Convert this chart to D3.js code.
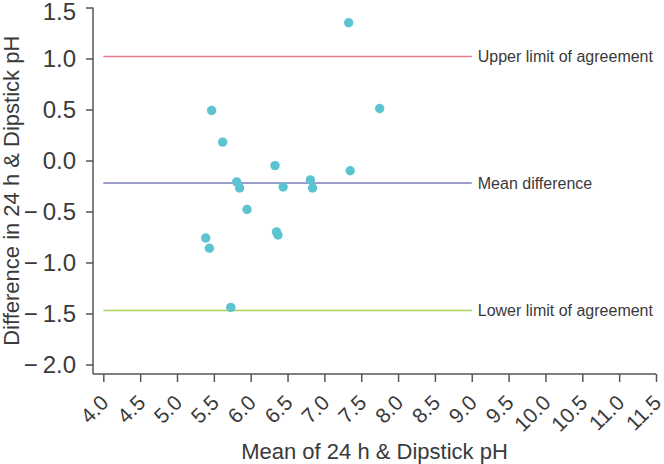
<!DOCTYPE html>
<html>
<head>
<meta charset="utf-8">
<script src="https://cdn.jsdelivr.net/npm/d3@7"></script>
<style>
  body { margin: 0; background: #fff; }
  svg { display: block; font-family: "Liberation Sans", Arial, sans-serif; }
  .axis path, .axis line { stroke: #555; stroke-width: 1.5; }
  .axis text { fill: #3a3a3a; }
</style>
</head>
<body>
<svg id="chart" width="664" height="464"></svg>
<script>
// Bland-Altman: mean of 24 h & dipstick pH vs difference
const meanPH = [7.33, 5.47, 7.75, 5.62, 6.33, 7.35, 5.81, 5.85, 6.44, 6.81, 6.84, 5.95, 6.35, 6.37, 5.39, 5.44, 5.73];
const diffPH = [1.35, 0.49, 0.51, 0.18, -0.05, -0.10, -0.21, -0.27, -0.26, -0.19, -0.27, -0.48, -0.70, -0.73, -0.76, -0.86, -1.44];

const refValues = [1.02, -0.22, -1.47];
const refLabels = ['Upper limit of agreement', 'Mean difference', 'Lower limit of agreement'];
const refColors = ['#e8798c', '#7c7cbd', '#a9cf5c'];
const refEnd = 9.0;

const xTicks = d3.range(4, 11.51, 0.5);
const yTicks = d3.range(-2, 1.51, 0.5);

const xTitle = 'Mean of 24 h & Dipstick pH';
const yTitle = 'Difference in 24 h & Dipstick pH';

const svg = d3.select('#chart');
const axisX = 93, axisY = 374;

let x = d3.scaleLinear().domain([4, 11.5]).range([103.3, 656]);
let y = d3.scaleLinear().domain([-2, 1.5]).range([364.5, 7.5]);
let fmt = d3.format('.1f');

// y axis
let yAxis = d3.axisLeft(y).tickValues(yTicks).tickFormat(fmt).tickSize(7).tickPadding(10).tickSizeOuter(0);
let gy = svg.append('g').classed('axis', true)
    .attr('transform', 'translate(' + axisX + ',0)')
    .call(yAxis);
gy.select('.domain').remove();
gy.append('line').attr('x1', 0).attr('x2', 0).attr('y1', y(1.5)).attr('y2', axisY);
gy.selectAll('.tick text').style('font-size', '24px')
    .each(function(d) {
        // minus sign sits a little apart from the number, as in the source figure
        let s = fmt(d);
        if (s.charAt(0) !== '\u2212') return;
        let t = d3.select(this).text('');
        t.append('tspan').text('\u2212');
        t.append('tspan').attr('dx', '0.2em').text(s.slice(1));
    });
gy.selectAll('.tick').filter(function(d){ return d === 1.5 })
    .select('text').attr('dy', '0.5em');

// x axis
let xAxis = d3.axisBottom(x).tickValues(xTicks).tickFormat(fmt).tickSize(8).tickSizeOuter(0);
let gx = svg.append('g').classed('axis', true)
    .attr('transform', 'translate(0,' + axisY + ')')
    .call(xAxis);
gx.select('.domain').remove();
gx.append('line').attr('x1', axisX).attr('x2', x(11.5)).attr('y1', 0).attr('y2', 0);
gx.selectAll('.tick text')
    .style('font-size', '21px')
    .attr('text-anchor', 'end')
    .attr('y', 0).attr('dy', 0)
    .attr('transform', 'translate(6,30) rotate(-45)');

// titles
svg.append('text')
    .attr('x', (axisX + x(11.5)) / 2).attr('y', 459)
    .attr('text-anchor', 'middle')
    .style('font-size', '22px').style('fill', '#3a3a3a')
    .text(xTitle);
svg.append('text')
    .attr('transform', 'translate(19,' + ((y(1.5) + axisY) / 2) + ') rotate(-90)')
    .attr('text-anchor', 'middle')
    .style('font-size', '22px').style('fill', '#3a3a3a')
    .text(yTitle);

// reference lines
let refs = svg.append('g').selectAll('g').data(refValues).enter().append('g');
refs.append('line')
    .attr('x1', x(4)).attr('x2', x(refEnd))
    .attr('y1', function(d){ return y(d) }).attr('y2', function(d){ return y(d) })
    .attr('stroke', function(d, i){ return refColors[i] })
    .attr('stroke-width', 1.6);
refs.append('text')
    .attr('x', x(refEnd) + 6)
    .attr('y', function(d){ return y(d) })
    .attr('dy', '0.35em')
    .style('font-size', '16px').style('fill', '#3a3a3a')
    .text(function(d, i){ return refLabels[i] });

// points
svg.append('g').selectAll('circle').data(meanPH).enter().append('circle')
    .attr('cx', function(d){ return x(d) })
    .attr('cy', function(d, i){ return y(diffPH[i]) })
    .attr('r', 4.7)
    .attr('fill', '#5bc4d0');
</script>
</body>
</html>
